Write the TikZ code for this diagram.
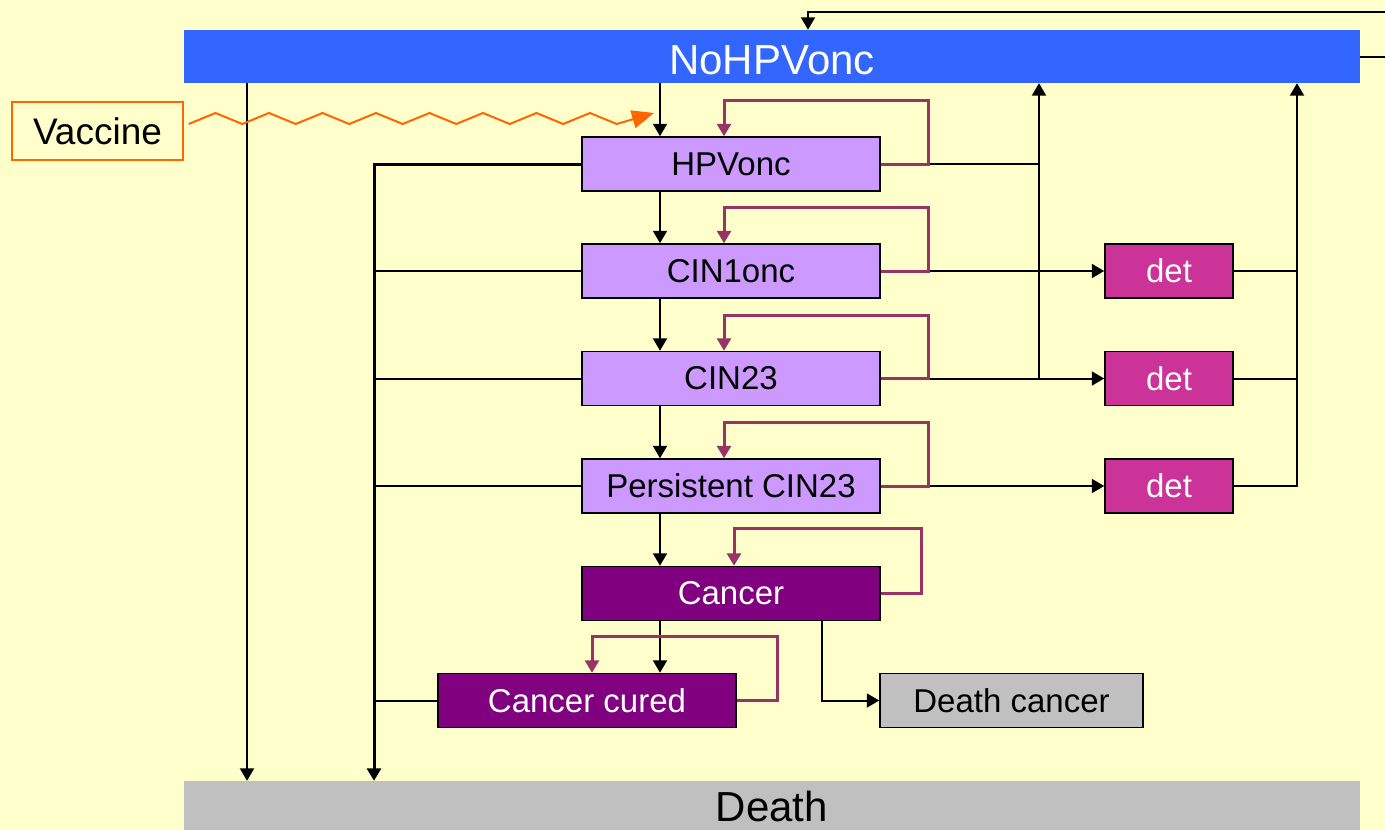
\documentclass[tikz,border=0pt]{standalone}
\usepackage{fontspec}
\setmainfont{Liberation Sans}
\usetikzlibrary{arrows.meta,positioning}

\definecolor{bgyellow}{HTML}{FFFFCC}
\definecolor{topblue}{HTML}{3366FF}
\definecolor{lavender}{HTML}{CC99FF}
\definecolor{darkpurple}{HTML}{800080}
\definecolor{detpink}{HTML}{CC3399}
\definecolor{loopcol}{HTML}{993366}
\definecolor{greybox}{HTML}{C0C0C0}
\definecolor{vacorange}{HTML}{FF6600}

\tikzset{
  box/.style={rectangle, draw=black, line width=1.5pt, inner sep=0pt,
    minimum height=54pt, font=\fontsize{33}{38}\selectfont},
  state/.style={box, fill=lavender, minimum width=298pt},
  cancerbox/.style={box, fill=darkpurple, text=white, minimum width=298pt},
  detbox/.style={box, fill=detpink, text=white, minimum width=128pt},
  bar/.style={rectangle, inner sep=0pt, minimum width=1176pt},
  tip/.style={-{Triangle[length=12.5pt,width=14pt]}},
  arr/.style={line width=2pt, tip},
  link/.style={line width=2pt},
  trunk/.style={line width=3pt},
  selfloop/.style={draw=loopcol, line width=3pt, tip},
  vacc/.style={draw=vacorange, line width=2pt,
    -{Triangle[length=22pt,width=18pt]}},
}

\begin{document}
\begin{tikzpicture}[x=1pt,y=-1pt]
  \useasboundingbox (0,0) rectangle (1385,830);
  \clip (0,0) rectangle (1385,830);
  \fill[bgyellow] (0,0) rectangle (1385,830);

  % column and row guides for the wiring
  \coordinate (xa) at (660,0);
  \coordinate (xb) at (374,0);
  \coordinate (xc) at (247,0);
  \coordinate (xd) at (1039,0);
  \coordinate (xe) at (1297,0);
  \coordinate (xf) at (822,0);
  \coordinate (xg) at (808,0);
  \coordinate (xh) at (1395,0);
  \coordinate (ytop) at (0,12);
  \coordinate (vtip) at (654,113);

  % bars
  \node[bar, fill=topblue, text=white, minimum height=53pt,
        font=\fontsize{42}{48}\selectfont] (top) at (772,56.5)
        {\raisebox{-4pt}[\height][\depth]{NoHPVonc}};
  \node[bar, fill=greybox, minimum height=50pt,
        font=\fontsize{42}{48}\selectfont] (death) at (772,806) {Death};

  % vaccine
  \node[rectangle, draw=vacorange, line width=1.5pt, fill=bgyellow,
        minimum width=171pt, minimum height=58pt, inner sep=0pt,
        font=\fontsize{37}{42}\selectfont] (vac) at (97.5,131) {Vaccine};

  % disease states
  \node[state] (hpv)   at (731,164)   {HPVonc};
  \node[state] (cin1)  at (731,271)   {CIN1onc};
  \node[state] (cin23) at (731,378.5) {CIN23};
  \node[state] (pcin)  at (731,486)   {Persistent CIN23};
  \node[cancerbox] (canc)  at (731,593.5) {Cancer};
  \node[cancerbox] (cured) at (587,700.5) {Cancer cured};
  \node[box, fill=greybox, minimum width=263pt] (dcanc) at (1011.5,700.5) {Death cancer};

  \node[detbox] (det1) at (1169,271)   {det};
  \node[detbox] (det2) at (1169,378.5) {det};
  \node[detbox] (det3) at (1169,486)   {det};

  % progression down the chain
  \draw[arr] (top.south -| xa) -- (hpv.north -| xa);
  \draw[arr] (hpv.south -| xa) -- (cin1.north -| xa);
  \draw[arr] (cin1.south -| xa) -- (cin23.north -| xa);
  \draw[arr] (cin23.south -| xa) -- (pcin.north -| xa);
  \draw[arr] (pcin.south -| xa) -- (canc.north -| xa);
  \draw[arr] (canc.south -| xa) -- (cured.north -| xa);
  \draw[arr] (canc.south -| xf) |- (dcanc.west);

  % other-cause mortality
  \draw[arr] (top.south -| xc) -- (death.north -| xc);
  \draw[trunk, tip] (hpv.west) -| (death.north -| xb);
  \draw[link] (cin1.west) -- (cin1.west -| xb);
  \draw[link] (cin23.west) -- (cin23.west -| xb);
  \draw[link] (pcin.west) -- (pcin.west -| xb);
  \draw[link] (cured.west) -- (cured.west -| xb);

  % regression and detection
  \draw[arr] (hpv.east) -| (top.south -| xd);
  \draw[link] (cin23.east -| xd) -- (hpv.east -| xd);
  \draw[arr] (cin1.east) -- (det1.west);
  \draw[arr] (cin23.east) -- (det2.west);
  \draw[arr] (pcin.east) -- (det3.west);
  \draw[link] (det1.east) -- (det1.east -| xe);
  \draw[link] (det2.east) -- (det2.east -| xe);
  \draw[arr] (det3.east) -| (top.south -| xe);

  % re-entry into NoHPVonc
  \draw[arr] (top.east) -- (top.east -| xh) -- (xh |- ytop) -| (top.north -| xg);

  % staying in the same state
  \draw[selfloop] (hpv.east) -- ++(48,0) -- ++(0,-64) -| ([xshift=-7pt]hpv.north);
  \draw[selfloop] (cin1.east) -- ++(48,0) -- ++(0,-64) -| ([xshift=-7pt]cin1.north);
  \draw[selfloop] (cin23.east) -- ++(48,0) -- ++(0,-63.5) -| ([xshift=-7pt]cin23.north);
  \draw[selfloop] (pcin.east) -- ++(48,0) -- ++(0,-64) -| ([xshift=-7pt]pcin.north);
  \draw[selfloop] (canc.east) -- ++(41,0) -- ++(0,-65) -| ([xshift=3pt]canc.north);
  \draw[selfloop] (cured.east) -- ++(41,0) -- ++(0,-64) -| ([xshift=5pt]cured.north);

  % vaccination effect
  \draw[vacc] (vac.east) ++(5,-7)
    \foreach \i in {1,...,8} { -- ++(26.75,-11) -- ++(26.75,11) } -- (vtip);
\end{tikzpicture}
\end{document}
